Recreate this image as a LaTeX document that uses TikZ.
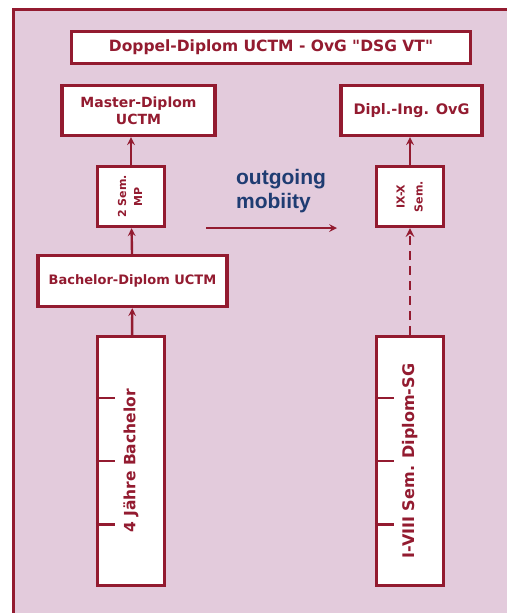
\documentclass[tikz,border=0pt]{standalone}
\usepackage{fontspec}
\usepackage{graphicx}
\setmainfont{DejaVu Sans}[Ligatures=TeXOff]
\newfontfamily\arialfont{Liberation Sans}
\usetikzlibrary{positioning, arrows, calc}
\definecolor{wine}{HTML}{931B30}
\definecolor{lilac}{HTML}{E3CBDC}
\definecolor{navy}{HTML}{1F3C72}
\tikzset{
    >=stealth, % small pointed arrow heads
    box/.style={draw=wine, line width=3.4pt, fill=white, text=wine, font=\bfseries, inner sep=0pt, align=center}, % the white boxes
    link/.style={->, draw=wine, line width=2.4pt}, % solid connectors
    tick/.style={draw=wine, line width=2.8pt}, % marks on the long boxes
}

\begin{document}
\begin{tikzpicture}[x=1pt, y=-1pt]
\useasboundingbox (0,0) rectangle (506,613);
\fill[white] (0,0) rectangle (506,613);
\draw[wine, line width=3.4pt, fill=lilac] (13.5,9.5) rectangle (530,630);

% top row
\node[box, minimum width=399, minimum height=32, font=\bfseries\fontsize{15.5}{17}\selectfont] (top) at (271,47.5) {Doppel-Diplom UCTM - OvG "DSG VT"};
\node[box, minimum width=153, minimum height=50, font=\bfseries\fontsize{14}{17}\selectfont] (master) at (138.5,110.5) {Master-Diplom\\UCTM};
\node[box, minimum width=141, minimum height=50, font=\bfseries\fontsize{14.5}{17}\selectfont] (ing) at (411.5,110.5) {Dipl.-Ing. OvG};

% semester boxes
\node[box, minimum width=67, minimum height=60, font=\bfseries\fontsize{11}{16}\selectfont] (sem2) at (131,196.5) {\rotatebox{90}{\begin{tabular}{@{}c@{}}2 Sem.\\MP\end{tabular}}};
\node[box, minimum width=67, minimum height=60, font=\bfseries\fontsize{11}{18}\selectfont] (semx) at (410,196.5) {\rotatebox{90}{\begin{tabular}{@{}c@{}}IX-X\\Sem.\end{tabular}}};
\node[box, minimum width=189, minimum height=51, font=\bfseries\fontsize{13}{15}\selectfont] (bach) at (132.5,281) {Bachelor-Diplom UCTM};

% long boxes
\node[box, minimum width=67, minimum height=249, font=\bfseries\fontsize{15.5}{17}\selectfont] (years) at (131,461) {\rotatebox{90}{4 Jähre Bachelor}};
\node[box, minimum width=67, minimum height=249, font=\bfseries\fontsize{16}{18}\selectfont] (diplsg) at (410,461) {\rotatebox{90}{I-VIII Sem. Diplom-SG}};
\foreach \f in {0.25,0.5,0.75} {
    \draw[tick] ($(years.north west)!\f!(years.south west)$) -- ++(19,0);
    \draw[tick] ($(diplsg.north west)!\f!(diplsg.south west)$) -- ++(19,0);
}

% connectors
\draw[link] (years) -- (bach);
\draw[link] (bach) -- (sem2);
\draw[link] (sem2.north) -- (sem2.north |- master.south);
\draw[link, dashed, dash pattern=on 9pt off 6pt, line width=2.8pt] (diplsg) -- (semx);
\draw[link] (semx.north) -- (semx.north |- ing.south);

% mobility
\coordinate (mstart) at (206,228);
\coordinate (mend) at (337,228);
\draw[link] (mstart) -- (mend);
\node[text=navy, font=\arialfont\bfseries\fontsize{21}{24.5}\selectfont, align=left] (mob) at (281,191) {outgoing\\mobiity};
\end{tikzpicture}
\end{document}
